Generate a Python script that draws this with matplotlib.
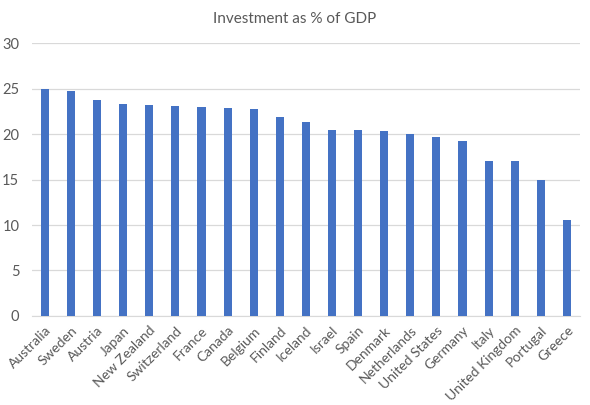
import matplotlib
matplotlib.use("Agg")
import matplotlib.pyplot as plt
import numpy as np

# ── data ──────────────────────────────────────────────────────────────────
countries = [
    "Australia", "Sweden", "Austria", "Japan", "New Zealand", "Switzerland",
    "France", "Canada", "Belgium", "Finland", "Iceland", "Israel", "Spain",
    "Denmark", "Netherlands", "United States", "Germany", "Italy",
    "United Kingdom", "Portugal", "Greece",
]
investment_pct = [
    25.0, 24.75, 23.8, 23.35, 23.2, 23.1, 23.0, 22.9, 22.8, 21.9, 21.35,
    20.5, 20.5, 20.35, 20.0, 19.7, 19.25, 17.05, 17.05, 14.95, 10.55,
]
yticks = [0, 5, 10, 15, 20, 25, 30]

# ── style ─────────────────────────────────────────────────────────────────
plt.rcParams.update({
    "font.family": ["Lato", "DejaVu Sans"],
    "font.size": 9,
})
TEXT = "#595959"
GRID = "#d9d9d9"
BAR = "#4472c4"

fig = plt.figure(figsize=(5.9, 4.05), dpi=100)
ax = fig.add_axes([0.054, 0.22, 0.929, 0.673])

x = np.arange(len(countries))
ax.bar(x, investment_pct, width=0.31, color=BAR, zorder=3)

ax.set_xlim(-0.5, len(countries) - 0.5)
ax.set_ylim(0, 30)
ax.set_yticks(yticks)
ax.set_yticklabels([str(v) for v in yticks], color=TEXT, fontsize=10.5)
ax.set_xticks(x)
ax.set_xticklabels(countries, rotation=45, ha="right", rotation_mode="anchor",
                   color=TEXT, fontsize=10)

ax.grid(axis="y", color=GRID, linewidth=0.9, zorder=0)
for s in ["top", "right", "left"]:
    ax.spines[s].set_visible(False)
ax.spines["bottom"].set_color(GRID)
ax.tick_params(axis="both", length=0)
ax.tick_params(axis="y", pad=9)
ax.tick_params(axis="x", pad=6)

fig.text(0.5, 0.953, "Investment as % of GDP", ha="center", va="center",
         fontsize=11, color=TEXT)

fig.savefig("out.png", dpi=100)
